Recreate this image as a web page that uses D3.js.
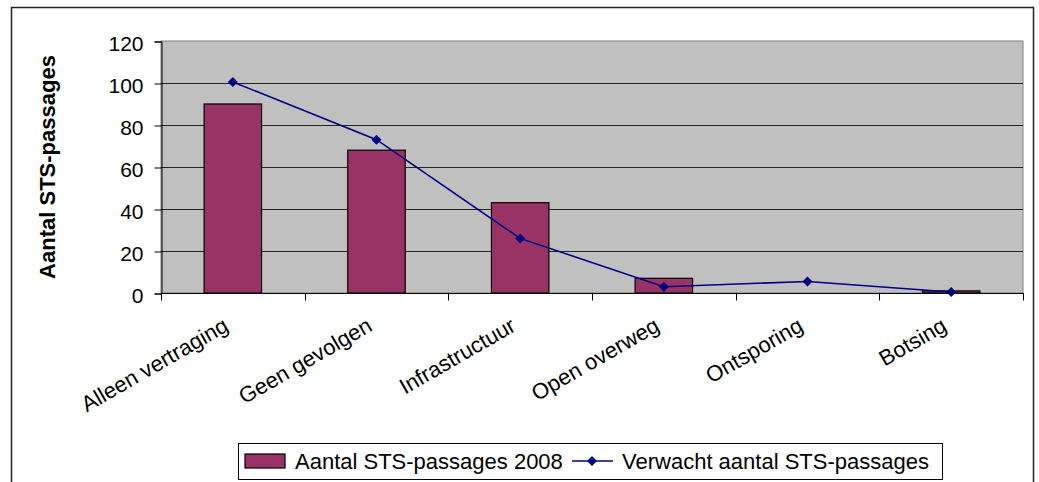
<!DOCTYPE html>
<html>
<head>
<meta charset="utf-8">
<script src="https://cdn.jsdelivr.net/npm/d3@7"></script>
<style>
  html, body { margin: 0; padding: 0; background: #fff; }
  svg { display: block; font-family: "Liberation Sans", Arial, sans-serif; }
</style>
</head>
<body>
<svg id="chart" width="1039" height="482"></svg>
<script>
// Categories and series
const categories = ["Alleen vertraging", "Geen gevolgen", "Infrastructuur", "Open overweg", "Ontsporing", "Botsing"];
const actual2008 = [90, 68, 43, 7, 0, 1];
const expected = [100.5, 73, 26, 3, 5.5, 0.5];
const yTicks = [0, 20, 40, 60, 80, 100, 120];
const seriesNames = ["Aantal STS-passages 2008", "Verwacht aantal STS-passages"];
const yTitle = "Aantal STS-passages";

const svg = d3.select("#chart");
const plot = { left: 161, right: 1023, top: 41, bottom: 293 };

const x = d3.scaleBand().domain(categories).range([plot.left, plot.right]).paddingInner(0).paddingOuter(0);
const y = d3.scaleLinear().domain([0, 120]).range([plot.bottom, plot.top]);
const barW = x.bandwidth() / 2.5;

// Chart frame
svg.append("rect")
  .attr("x", 11.5).attr("y", 7.5).attr("width", 1022).attr("height", 520)
  .attr("fill", "#fff").attr("stroke", "#222").attr("stroke-width", 1.5);

// Plot area background
svg.append("rect")
  .attr("x", plot.left).attr("y", plot.top)
  .attr("width", plot.right - plot.left).attr("height", plot.bottom - plot.top)
  .attr("fill", "#c0c0c0").attr("stroke", "#808080").attr("stroke-width", 1);

// Horizontal gridlines
svg.append("g").selectAll("line")
  .data(yTicks.filter(d => d > 0 && d < 120))
  .join("line")
  .attr("x1", plot.left).attr("x2", plot.right)
  .attr("y1", d => Math.round(y(d)) + 0.5).attr("y2", d => Math.round(y(d)) + 0.5)
  .attr("stroke", "#222").attr("stroke-width", 1);

// Y axis
const yAxis = d3.axisLeft(y).tickValues(yTicks).tickSize(7).tickPadding(11).tickFormat(d3.format("d"));
const gy = svg.append("g").attr("transform", `translate(${plot.left + 0.5},0.5)`).call(yAxis);
gy.select(".domain").attr("stroke", "#000");
gy.selectAll(".tick line").attr("stroke", "#000");
gy.selectAll(".tick text")
  .attr("font-size", 21).attr("fill", "#000")
  .attr("dy", "0.45em");

// X axis with ticks at category boundaries
const gx = svg.append("g").attr("transform", `translate(0,${plot.bottom + 0.5})`);
gx.append("line").attr("x1", plot.left).attr("x2", plot.right + 1)
  .attr("stroke", "#000").attr("stroke-width", 1.2);
const boundaries = categories.map(c => x(c)).concat([plot.right]);
gx.selectAll("line.tk").data(boundaries).join("line").attr("class", "tk")
  .attr("x1", d => Math.round(d) + 0.5).attr("x2", d => Math.round(d) + 0.5)
  .attr("y1", 0).attr("y2", 7).attr("stroke", "#000");

// Category labels, rotated
svg.append("g").selectAll("text")
  .data(categories)
  .join("text")
  .attr("transform", d => `translate(${x(d) + x.bandwidth() / 2 - 3},330) rotate(-30)`)
  .attr("text-anchor", "end")
  .attr("font-size", 22)
  .attr("fill", "#000")
  .text(d => d);

// Bars
svg.append("g").selectAll("rect")
  .data(categories.map((c, i) => ({ c, v: actual2008[i] })))
  .join("rect")
  .attr("x", d => x(d.c) + x.bandwidth() / 2 - barW / 2)
  .attr("y", d => y(d.v))
  .attr("width", barW)
  .attr("height", d => y(0) - y(d.v))
  .attr("fill", "#993366")
  .attr("stroke", "#000").attr("stroke-width", 1.2);

// Expected line with diamond markers
const pts = categories.map((c, i) => ({ c, v: expected[i] }));
const line = d3.line().x(d => x(d.c) + x.bandwidth() / 2).y(d => y(d.v));
svg.append("path").datum(pts)
  .attr("d", line).attr("fill", "none").attr("stroke", "#000080").attr("stroke-width", 1.6);
const diamond = "M0,-5L5,0L0,5L-5,0Z";
svg.append("g").selectAll("path")
  .data(pts).join("path")
  .attr("transform", d => `translate(${x(d.c) + x.bandwidth() / 2},${y(d.v)})`)
  .attr("d", diamond).attr("fill", "#000080");

// Y axis title
svg.append("text")
  .attr("transform", "translate(55,167) rotate(-90)")
  .attr("text-anchor", "middle")
  .attr("font-size", 22).attr("font-weight", "bold").attr("fill", "#000")
  .text(yTitle);

// Legend
const lg = svg.append("g");
lg.append("rect").attr("x", 238.5).attr("y", 443.5).attr("width", 704).attr("height", 36)
  .attr("fill", "#fff").attr("stroke", "#000").attr("stroke-width", 1);
lg.append("rect").attr("x", 245).attr("y", 454).attr("width", 40).attr("height", 14)
  .attr("fill", "#993366").attr("stroke", "#000").attr("stroke-width", 1.2);
lg.append("text").attr("x", 295).attr("y", 469).attr("font-size", 22).attr("fill", "#000").text(seriesNames[0]);
lg.append("line").attr("x1", 572).attr("x2", 613).attr("y1", 461).attr("y2", 461)
  .attr("stroke", "#000080").attr("stroke-width", 1.6);
lg.append("path").attr("transform", "translate(592,461)").attr("d", diamond).attr("fill", "#000080");
lg.append("text").attr("x", 622).attr("y", 469).attr("font-size", 22).attr("fill", "#000").text(seriesNames[1]);
</script>
</body>
</html>
